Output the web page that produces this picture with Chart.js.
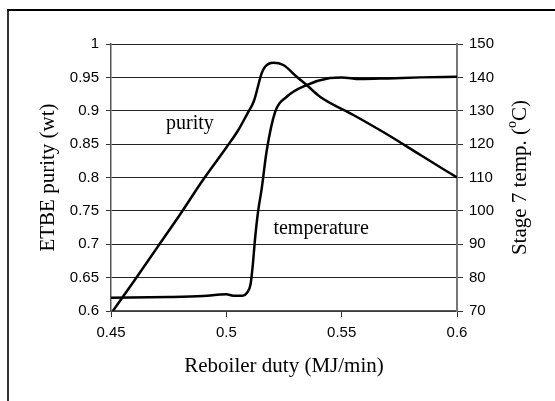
<!DOCTYPE html>
<html lang="en">
<head>
    <meta charset="UTF-8">
    <title>ETBE purity and stage 7 temperature vs reboiler duty</title>
    <script src="https://cdn.jsdelivr.net/npm/chart.js@4.4.0/dist/chart.umd.min.js"></script>
    <style>
        body { margin: 0; background: #ffffff; }
        canvas { display: block; }
    </style>
</head>
<body>
    <canvas id="dutyChart" width="555" height="401"></canvas>

    <script>
        // purity curve (left axis)
        const purityDuty = [0.4508, 0.46, 0.47, 0.48, 0.49, 0.5, 0.505, 0.509, 0.512, 0.5153, 0.5168, 0.5204, 0.5247, 0.5305, 0.5348, 0.5406, 0.5551, 0.57, 0.584, 0.6];
        const purity     = [0.6, 0.645, 0.695, 0.745, 0.797, 0.845, 0.87, 0.895, 0.915, 0.956, 0.966, 0.972, 0.9685, 0.951, 0.9386, 0.921, 0.8936, 0.864, 0.834, 0.8];

        // temperature curve (right axis)
        const tempDuty = [0.45, 0.475, 0.49, 0.5, 0.503, 0.507, 0.509, 0.5105, 0.5115, 0.5125, 0.5138, 0.5153, 0.5175, 0.5211, 0.5262, 0.5348, 0.5449, 0.55, 0.558, 0.57, 0.584, 0.6];
        const temperature = [74.0, 74.2, 74.5, 75.0, 74.6, 74.6, 75.5, 78, 84, 92, 100, 106.5, 118, 129.5, 134.2, 137.7, 139.8, 140, 139.5, 139.7, 140, 140.2];

        // axis ranges
        const dutyTicks = [0.45, 0.5, 0.55, 0.6];
        const purityRange = [0.6, 1];
        const tempRange = [70, 150];

        const serif = '"Liberation Serif", "Times New Roman", serif';
        const sans = '"Liberation Sans", Arial, sans-serif';

        const toPoints = (xs, ys) => xs.map((x, i) => ({ x: x, y: ys[i] }));
        const fmt = v => String(+v.toFixed(2));

        // titles, curve labels and the outer frame
        const decorations = {
            id: 'decorations',
            afterDraw(chart) {
                const c = chart.ctx;
                const xs = chart.scales.x;
                const ys = chart.scales.y;
                const area = chart.chartArea;
                const midY = (area.top + area.bottom) / 2;
                c.save();

                // frame
                c.fillStyle = '#333';
                c.fillRect(7, 9, 2, 401 - 9);
                c.fillStyle = '#000';
                c.fillRect(7, 9, 555 - 7, 2);

                c.fillStyle = '#000';
                c.textBaseline = 'middle';
                c.textAlign = 'center';

                // curve labels
                c.font = '20px ' + serif;
                c.fillText('purity', xs.getPixelForValue(0.4842), ys.getPixelForValue(0.881));
                c.fillText('temperature', xs.getPixelForValue(0.5411), ys.getPixelForValue(0.7228));

                // x title
                c.font = '21px ' + serif;
                c.fillText('Reboiler duty (MJ/min)', (area.left + area.right) / 2, 366);

                // left title
                c.save();
                c.translate(48, midY);
                c.rotate(-Math.PI / 2);
                c.fillText('ETBE purity (wt)', 0, 0);
                c.restore();

                // right title with superscript o
                c.save();
                c.translate(520, midY);
                c.rotate(-Math.PI / 2);
                c.textAlign = 'left';
                const big = '21px ' + serif, small = '14px ' + serif;
                const parts = ['Stage 7 temp. (', 'o', 'C)'];
                c.font = big;
                const w0 = c.measureText(parts[0]).width;
                const w2 = c.measureText(parts[2]).width;
                c.font = small;
                const w1 = c.measureText(parts[1]).width;
                let px = -(w0 + w1 + w2) / 2;
                c.font = big;
                c.fillText(parts[0], px, 0);
                px += w0;
                c.font = small;
                c.fillText(parts[1], px, -8);
                px += w1;
                c.font = big;
                c.fillText(parts[2], px, 0);
                c.restore();

                c.restore();
            }
        };

        const ctx = document.getElementById('dutyChart').getContext('2d');
        const dutyChart = new Chart(ctx, {
            type: 'line',
            data: {
                datasets: [{
                    label: 'purity',
                    data: toPoints(purityDuty, purity),
                    yAxisID: 'y',
                    borderColor: '#000',
                    borderWidth: 2.5,
                    pointRadius: 0,
                    cubicInterpolationMode: 'monotone',
                    fill: false
                }, {
                    label: 'temperature',
                    data: toPoints(tempDuty, temperature),
                    yAxisID: 'y1',
                    borderColor: '#000',
                    borderWidth: 2.5,
                    pointRadius: 0,
                    cubicInterpolationMode: 'monotone',
                    fill: false
                }]
            },
            options: {
                responsive: false,
                animation: false,
                devicePixelRatio: 1,
                layout: { padding: { top: 44, left: 0, right: 0, bottom: 0 } },
                plugins: {
                    legend: { display: false },
                    tooltip: { enabled: false }
                },
                scales: {
                    x: {
                        type: 'linear',
                        min: dutyTicks[0],
                        max: dutyTicks[dutyTicks.length - 1],
                        afterFit: s => { s.height = 90; },
                        afterBuildTicks: s => { s.ticks = dutyTicks.map(v => ({ value: v })); },
                        border: { display: true, color: '#555', width: 1.5 },
                        grid: { drawOnChartArea: false, drawTicks: true, tickLength: 6, color: '#333' },
                        ticks: {
                            padding: 7,
                            color: '#000',
                            font: { family: sans, size: 15 },
                            callback: fmt
                        }
                    },
                    y: {
                        position: 'left',
                        min: purityRange[0],
                        max: purityRange[1],
                        afterFit: s => { s.width = 111; },
                        border: { display: true, color: '#555', width: 1.5 },
                        grid: { color: '#222', lineWidth: 1, tickLength: 5, tickColor: '#333' },
                        ticks: {
                            stepSize: 0.05,
                            padding: 7,
                            color: '#000',
                            font: { family: sans, size: 15 },
                            callback: fmt
                        }
                    },
                    y1: {
                        position: 'right',
                        min: tempRange[0],
                        max: tempRange[1],
                        afterFit: s => { s.width = 98; },
                        border: { display: true, color: '#777', width: 2 },
                        grid: { drawOnChartArea: false, tickLength: 6, color: '#333' },
                        ticks: {
                            stepSize: 10,
                            padding: 6,
                            color: '#000',
                            font: { family: sans, size: 15 }
                        }
                    }
                }
            },
            plugins: [decorations]
        });
    </script>
</body>
</html>
